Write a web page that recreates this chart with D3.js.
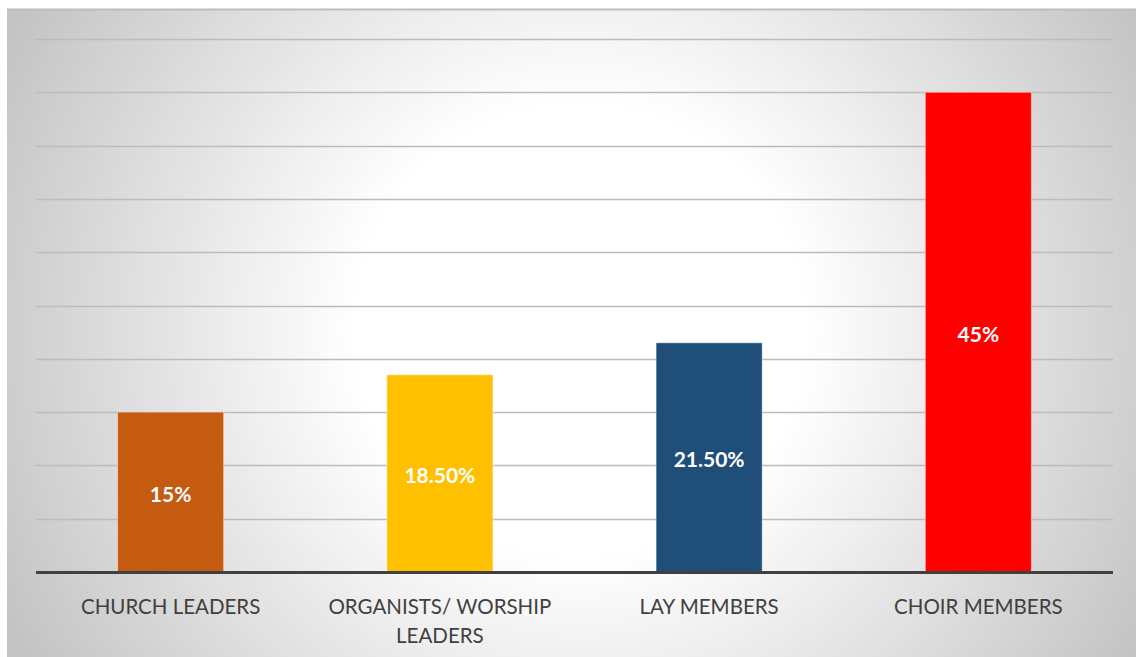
<!DOCTYPE html>
<html>
<head>
<meta charset="utf-8">
<script src="https://cdn.jsdelivr.net/npm/d3@7"></script>
<style>
  body { margin: 0; background: #fff; }
</style>
</head>
<body>
<script>
// chart data
var categories = ["CHURCH LEADERS", "ORGANISTS/ WORSHIP LEADERS", "LAY MEMBERS", "CHOIR MEMBERS"];
var labelLines = [["CHURCH LEADERS"], ["ORGANISTS/ WORSHIP", "LEADERS"], ["LAY MEMBERS"], ["CHOIR MEMBERS"]];
var values = [15, 18.5, 21.5, 45];
var valueLabels = ["15%", "18.50%", "21.50%", "45%"];
var barColors = ["#C55A11", "#FFC000", "#1F4E79", "#FF0000"];
var gridTicks = [5, 10, 15, 20, 25, 30, 35, 40, 45, 50];

var width = 1136;
var height = 657;

var svg = d3.select("body")
  .append("svg")
  .attr("width", width)
  .attr("height", height);

// background gradient
var defs = svg.append("defs");
var grad = defs.append("radialGradient")
  .attr("id", "bg")
  .attr("gradientUnits", "userSpaceOnUse")
  .attr("cx", 580).attr("cy", 330).attr("r", 640);
grad.append("stop").attr("offset", "0%").attr("stop-color", "#ffffff");
grad.append("stop").attr("offset", "35%").attr("stop-color", "#ffffff");
grad.append("stop").attr("offset", "100%").attr("stop-color", "#c4c4c4");

svg.append("rect")
  .attr("x", 7).attr("y", 9)
  .attr("width", 1129).attr("height", 648)
  .attr("fill", "url(#bg)");
svg.append("line")
  .attr("x1", 7).attr("x2", 1136).attr("y1", 9.5).attr("y2", 9.5)
  .attr("stroke", "#bdbdbd").attr("stroke-width", 2);

var x = d3.scaleBand()
  .domain(categories)
  .range([36, 1113])
  .paddingInner(0.606)
  .paddingOuter(0.303);

var y = d3.scaleLinear()
  .domain([0, 50])
  .range([572, 39]);

// gridlines
var g = svg.append("g");
g.selectAll("line.grid")
  .data(gridTicks)
  .enter()
  .append("line")
  .attr("class", "grid")
  .attr("x1", 36).attr("x2", 1113)
  .attr("y1", function(d){ return Math.round(y(d)) + 0.5; })
  .attr("y2", function(d){ return Math.round(y(d)) + 0.5; })
  .attr("stroke", "#bcbcbc")
  .attr("stroke-width", 1.3);

// bars
svg.append("g").selectAll("rect")
  .data(values)
  .enter()
  .append("rect")
  .attr("x", function(d, i){ return x(categories[i]); })
  .attr("y", function(d){ return y(d); })
  .attr("width", x.bandwidth())
  .attr("height", function(d){ return y(0) - y(d); })
  .attr("fill", function(d, i){ return barColors[i]; })
  .attr("stroke", "rgba(255,255,255,0.45)")
  .attr("stroke-width", 1);

// value labels
svg.append("g").selectAll("text")
  .data(values)
  .enter()
  .append("text")
  .attr("x", function(d, i){ return x(categories[i]) + x.bandwidth() / 2; })
  .attr("y", function(d){ return (y(d) + y(0)) / 2 + 10; })
  .attr("text-anchor", "middle")
  .attr("font-family", "Lato, 'Open Sans', sans-serif")
  .attr("font-weight", "bold")
  .attr("font-size", "21px")
  .attr("fill", "#ffffff")
  .text(function(d, i){ return valueLabels[i]; });

// baseline
svg.append("line")
  .attr("x1", 36).attr("x2", 1113)
  .attr("y1", y(0) + 0.5).attr("y2", y(0) + 0.5)
  .attr("stroke", "#404040")
  .attr("stroke-width", 3);

// category labels
var cl = svg.append("g").selectAll("text")
  .data(categories)
  .enter()
  .append("text")
  .attr("text-anchor", "middle")
  .attr("font-family", "Lato, 'Open Sans', sans-serif")
  .attr("font-size", "20.5px")
  .attr("fill", "#404040")
  .attr("transform", function(d){ return "translate(" + (x(d) + x.bandwidth() / 2) + ",614)"; });

cl.selectAll("tspan")
  .data(function(d, i){ return labelLines[i]; })
  .enter()
  .append("tspan")
  .attr("x", 0)
  .attr("dy", function(d, i){ return i === 0 ? 0 : 29; })
  .text(function(d){ return d; });
</script>
</body>
</html>
